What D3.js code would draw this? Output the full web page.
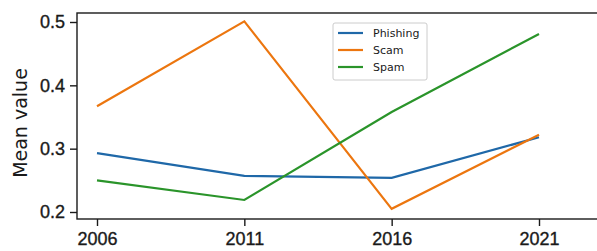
<!DOCTYPE html>
<html>
<head>
<meta charset="utf-8">
<script src="https://cdn.jsdelivr.net/npm/d3@7"></script>
<style>
	body { margin: 0; background: #fff; }
	svg { display: block; font-family: "DejaVu Sans", sans-serif; }
</style>
</head>
<body>
<svg id="chart" width="597" height="251"></svg>
<script>
const years = [2006, 2011, 2016, 2021];
const seriesNames = ["Phishing", "Scam", "Spam"];
const phishing = [0.293, 0.257, 0.254, 0.318];
const scam = [0.367, 0.501, 0.205, 0.322];
const spam = [0.250, 0.219, 0.358, 0.481];
const yTicks = [0.2, 0.3, 0.4, 0.5];
const colors = ["#1f68a8", "#ec760f", "#2a942a"];

const svg = d3.select("#chart");

// axes box (right spine falls outside the picture)
const box = { left: 77, top: 13, bottom: 219, right: 600 };

const x = d3.scaleLinear().domain([2006, 2021]).range([97, 539]);
const y = d3.scaleLinear().domain([0.2, 0.5]).range([212, 22]);

// frame
svg.append("rect")
	.attr("x", box.left).attr("y", box.top)
	.attr("width", box.right - box.left).attr("height", box.bottom - box.top)
	.attr("fill", "none").attr("stroke", "#1a1a1a").attr("stroke-width", 1.4);

// y axis
const yAxis = svg.append("g")
	.attr("transform", `translate(${box.left},0)`)
	.call(d3.axisLeft(y).tickValues(yTicks).tickFormat(d3.format(".1f")).tickSize(7).tickPadding(5));
yAxis.select(".domain").remove();
yAxis.selectAll("text").attr("font-size", 18).attr("fill", "#1a1a1a")
	.attr("stroke", "#1a1a1a").attr("stroke-width", 0.35);
yAxis.selectAll("line").attr("stroke", "#1a1a1a").attr("stroke-width", 1.4);

// x axis
const xAxis = svg.append("g")
	.attr("transform", `translate(0,${box.bottom})`)
	.call(d3.axisBottom(x).tickValues(years).tickFormat(d3.format("d")).tickSize(7).tickPadding(6));
xAxis.select(".domain").remove();
xAxis.selectAll("text").attr("font-size", 18).attr("fill", "#1a1a1a")
	.attr("stroke", "#1a1a1a").attr("stroke-width", 0.35);
xAxis.selectAll("line").attr("stroke", "#1a1a1a").attr("stroke-width", 1.4);

// y label
svg.append("text")
	.attr("transform", "translate(27,123) rotate(-90)")
	.attr("text-anchor", "middle")
	.attr("font-size", 19)
	.attr("fill", "#1a1a1a")
	.text("Mean value");

// lines
const data = [phishing, scam, spam];
const line = d3.line()
	.x((d, i) => x(years[i]))
	.y(d => y(d));

svg.selectAll("path.series")
	.data(data)
	.enter()
	.append("path")
	.attr("class", "series")
	.attr("d", line)
	.attr("fill", "none")
	.attr("stroke", (d, i) => colors[i])
	.attr("stroke-width", 2.2);

// legend
const legend = svg.append("g").attr("transform", "translate(333,23)");
legend.append("rect")
	.attr("width", 94).attr("height", 57).attr("rx", 2)
	.attr("fill", "#fff").attr("stroke", "#ccc");
const rows = legend.selectAll("g.row")
	.data(seriesNames)
	.enter()
	.append("g")
	.attr("class", "row")
	.attr("transform", (d, i) => `translate(0,${10 + i * 17})`);
rows.append("line")
	.attr("x1", 5).attr("x2", 30)
	.attr("stroke", (d, i) => colors[i]).attr("stroke-width", 2.2);
rows.append("text")
	.attr("x", 40).attr("dy", "0.35em")
	.attr("font-size", 11).attr("fill", "#1a1a1a")
	.text(d => d);
</script>
</body>
</html>
